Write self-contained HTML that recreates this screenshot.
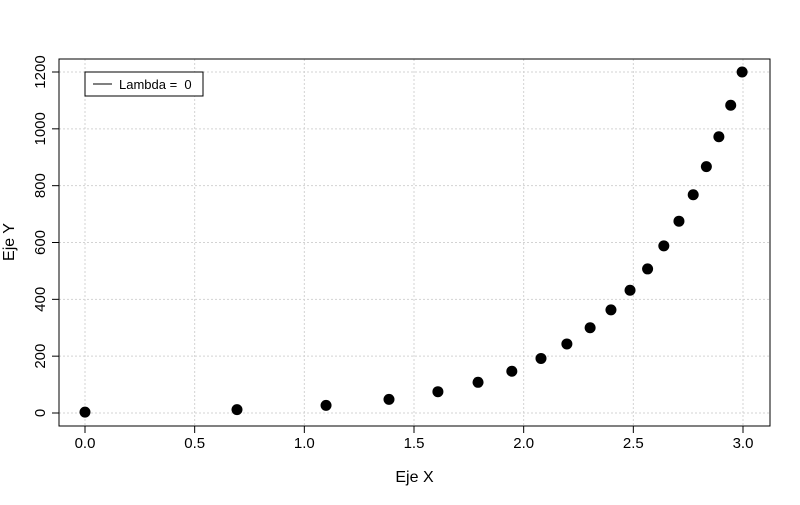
<!DOCTYPE html>
<html><head><meta charset="utf-8"><style>body{margin:0;background:#fff}svg{font-family:"Liberation Sans",sans-serif}text{white-space:pre}</style></head>
<body>
<svg id="c" width="800" height="500"></svg>
<script>
const xValues=[0,0.693,1.099,1.386,1.609,1.792,1.946,2.079,2.197,2.303,2.398,2.485,2.565,2.639,2.708,2.773,2.833,2.890,2.944,2.996];
const yValues=[3,12,27,48,75,108,147,192,243,300,363,432,507,588,675,768,867,972,1083,1200];
const xTicks=[0,0.5,1,1.5,2,2.5,3];
const xTickLabels=["0.0","0.5","1.0","1.5","2.0","2.5","3.0"];
const yTicks=[0,200,400,600,800,1000,1200];
const NS="http://www.w3.org/2000/svg";
const svg=document.getElementById('c');
const L=59,R=770,T=59,B=426;
const sx=v=>85+v*(743-85)/3;
const sy=v=>413-v*(413-72)/1200;
function mk(t,a,p){const e=document.createElementNS(NS,t);for(const k in a)e.setAttribute(k,a[k]);(p||svg).appendChild(e);return e;}
xTicks.forEach((v,i)=>{
 const g=mk('line',{x1:sx(v),x2:sx(v),y1:T,y2:B,stroke:'#d3d3d3','stroke-dasharray':'2,2'});
 
 
 const t=mk('line',{x1:sx(v),x2:sx(v),y1:B,y2:B+7,stroke:'#000'});
 
 
 const l=mk('text',{x:sx(v),y:B+22,'text-anchor':'middle','font-size':'15'});
 l.textContent=xTickLabels[i];
 
 
});
yTicks.forEach(v=>{
 const g=mk('line',{x1:L,x2:R,y1:sy(v),y2:sy(v),stroke:'#d3d3d3','stroke-dasharray':'2,2'});
 
 
 const t=mk('line',{x1:L-7,x2:L,y1:sy(v),y2:sy(v),stroke:'#000'});
 
 
 const l=mk('text',{x:L-14,y:sy(v),'text-anchor':'middle','font-size':'15',transform:`rotate(-90 ${L-14} ${sy(v)})`});
 l.textContent=v;
 
 
});
const box=mk('rect',{x:L,y:T,width:R-L,height:B-T,fill:'none',stroke:'#000'});


xValues.forEach((x,i)=>{
 const c=mk('circle',{cx:sx(x),cy:sy(yValues[i]),r:5.5,fill:'#000'});
 
 
});
const lg=mk('g',{});


mk('rect',{x:85,y:72,width:118,height:24,fill:'#fff',stroke:'#000'},lg);
mk('line',{x1:93,x2:112,y1:84,y2:84,stroke:'#000'},lg);
const lt=mk('text',{x:119,y:89,'font-size':'13'},lg);
lt.textContent='Lambda =  0';
const xt=mk('text',{x:(L+R)/2,y:482,'text-anchor':'middle','font-size':'16'});
xt.textContent='Eje X';


const yt=mk('text',{x:14,y:242,'text-anchor':'middle','font-size':'16',transform:'rotate(-90 14 242)'});
yt.textContent='Eje Y';


</script>
</body></html>
